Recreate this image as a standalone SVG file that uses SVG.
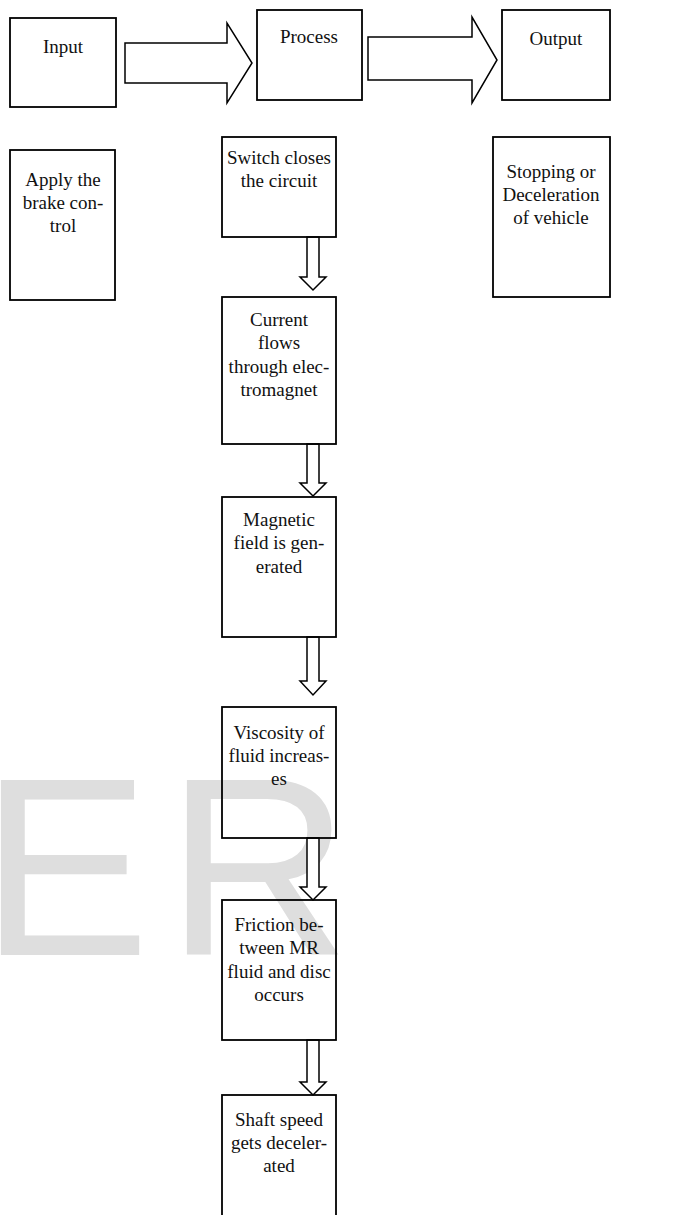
<svg xmlns="http://www.w3.org/2000/svg" width="683" height="1215" viewBox="0 0 683 1215">
<style>
.box{fill:none;stroke:#000;stroke-width:1.8}
.arr{fill:#fff;stroke:#000;stroke-width:1.5;stroke-linejoin:miter}
.t{font-family:"Liberation Serif","Times New Roman",serif;font-size:19px;fill:#111;text-anchor:middle}
.wm{font-family:"Liberation Sans",Arial,sans-serif;font-size:255px;fill:#dedede;letter-spacing:16px}
</style>
<rect width="683" height="1215" fill="#fff"/>
<text class="wm" x="-20" y="955">ER</text>
<g id="connectors">
<polygon class="arr" points="125,43 227,43 227,23 252,63 227,103 227,83 125,83"/>
<polygon class="arr" points="368,37 472,37 472,17 497,60 472,103 472,80 368,80"/>
<polygon class="arr" points="307,237 319,237 319,277 326,277 313,290 300,277 307,277"/>
<polygon class="arr" points="307,444 319,444 319,483 326,483 313,496 300,483 307,483"/>
<polygon class="arr" points="307,637 319,637 319,681 326,681 313,695 300,681 307,681"/>
<polygon class="arr" points="307,838 319,838 319,887 326,887 313,900 300,887 307,887"/>
<polygon class="arr" points="307,1040 319,1040 319,1082 326,1082 313,1095 300,1082 307,1082"/>
</g>
<g id="input">
<rect class="box" x="10" y="18" width="106" height="89"/>
<text class="t" x="63" y="53">Input</text>
</g>
<g id="process">
<rect class="box" x="257" y="10" width="105" height="90"/>
<text class="t" x="309" y="43">Process</text>
</g>
<g id="output">
<rect class="box" x="502" y="10" width="108" height="90"/>
<text class="t" x="556" y="45">Output</text>
</g>
<g id="apply">
<rect class="box" x="10" y="150" width="105" height="150"/>
<text class="t"><tspan x="63" y="186">Apply the</tspan><tspan x="63" y="209">brake con-</tspan><tspan x="63" y="232">trol</tspan></text>
</g>
<g id="stopping">
<rect class="box" x="493" y="137" width="117" height="160"/>
<text class="t"><tspan x="551" y="178">Stopping or</tspan><tspan x="551" y="201">Deceleration</tspan><tspan x="551" y="224">of vehicle</tspan></text>
</g>
<g id="switch">
<rect class="box" x="222" y="137" width="114" height="100"/>
<text class="t"><tspan x="279" y="164">Switch closes</tspan><tspan x="279" y="187">the circuit</tspan></text>
</g>
<g id="current">
<rect class="box" x="222" y="297" width="114" height="147"/>
<text class="t"><tspan x="279" y="326">Current</tspan><tspan x="279" y="349">flows</tspan><tspan x="279" y="373">through elec-</tspan><tspan x="279" y="396">tromagnet</tspan></text>
</g>
<g id="magnetic">
<rect class="box" x="222" y="497" width="114" height="140"/>
<text class="t"><tspan x="279" y="526">Magnetic</tspan><tspan x="279" y="549">field is gen-</tspan><tspan x="279" y="573">erated</tspan></text>
</g>
<g id="viscosity">
<rect class="box" x="222" y="707" width="114" height="131"/>
<text class="t"><tspan x="279" y="739">Viscosity of</tspan><tspan x="279" y="762">fluid increas-</tspan><tspan x="279" y="785">es</tspan></text>
</g>
<g id="friction">
<rect class="box" x="222" y="900" width="114" height="140"/>
<text class="t"><tspan x="279" y="931">Friction be-</tspan><tspan x="279" y="954">tween MR</tspan><tspan x="279" y="978">fluid and disc</tspan><tspan x="279" y="1001">occurs</tspan></text>
</g>
<g id="shaft">
<rect class="box" x="222" y="1095" width="114" height="125"/>
<text class="t"><tspan x="279" y="1126">Shaft speed</tspan><tspan x="279" y="1149">gets deceler-</tspan><tspan x="279" y="1172">ated</tspan></text>
</g>
</svg>
